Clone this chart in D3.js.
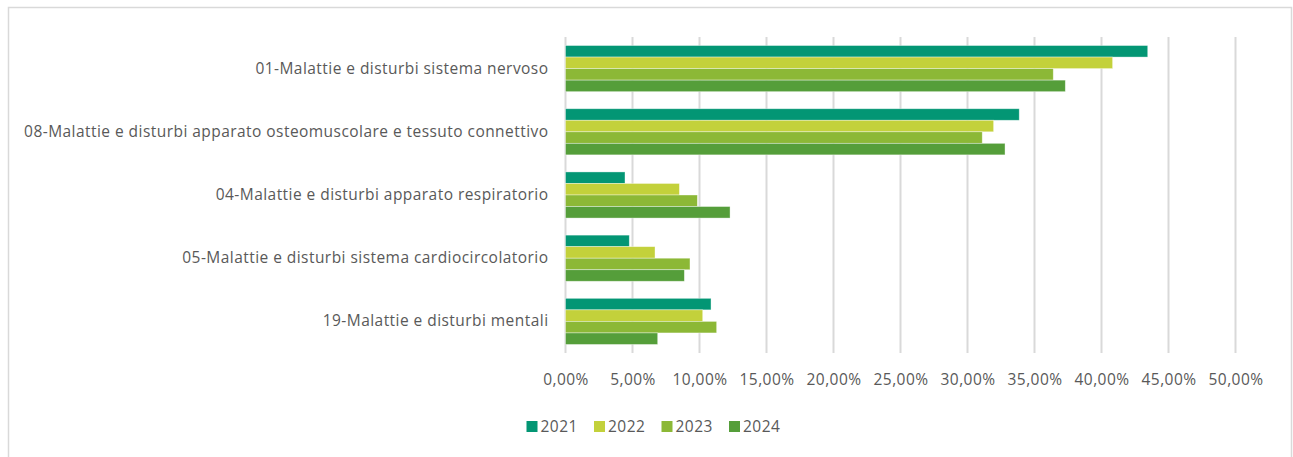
<!DOCTYPE html>
<html><head><meta charset="utf-8">
<script src="https://cdn.jsdelivr.net/npm/d3@7"></script>
<style>
body{margin:0;background:#fff;}
svg{display:block;font-family:"Open Sans",sans-serif;}
</style></head>
<body><svg id="c" width="1293" height="457"></svg>
<script>
const categories = [
  "01-Malattie e disturbi sistema nervoso",
  "08-Malattie e disturbi apparato osteomuscolare e tessuto connettivo",
  "04-Malattie e disturbi apparato respiratorio",
  "05-Malattie e disturbi sistema cardiocircolatorio",
  "19-Malattie e disturbi mentali"
];
const years = ["2021","2022","2023","2024"];
const v2021 = [43.45, 33.86, 4.44, 4.76, 10.86];
const v2022 = [40.83, 31.95, 8.50, 6.68, 10.24];
const v2023 = [36.40, 31.10, 9.84, 9.29, 11.28];
const v2024 = [37.30, 32.80, 12.28, 8.87, 6.88];
const tickValues = [0,5,10,15,20,25,30,35,40,45,50];
const colors = ["#039674","#C3D13B","#8CB836","#559E3A"];
const series = [v2021, v2022, v2023, v2024];

(function(){
const svg = d3.select("#c");
svg.append("rect").attr("x",8.5).attr("y",7.5).attr("width",1283).attr("height",460)
  .attr("fill","#fff").attr("stroke","#d9d9d9").attr("stroke-width",1.5);

const mLeft = 565.5, mRight = 1235.5, mTop = 37, mBottom = 353;
const x = d3.scaleLinear().domain([0,50]).range([mLeft,mRight]);
const y = d3.scaleBand().domain(categories).range([mTop,mBottom]).paddingInner(0.27).paddingOuter(0.135);
const y1 = d3.scaleBand().domain(years).range([0,y.bandwidth()]);

svg.append("g").selectAll("line").data(tickValues).join("line")
  .attr("x1",d=>x(d)).attr("x2",d=>x(d)).attr("y1",mTop).attr("y2",mBottom)
  .attr("stroke","#d9d9d9").attr("stroke-width",2);

years.forEach((yr,i)=>{
  svg.append("g").selectAll("rect").data(categories).join("rect")
    .attr("x",x(0)).attr("y",(c)=>y(c)+y1(yr))
    .attr("width",(c,j)=>x(series[i][j])-x(0)).attr("height",y1.bandwidth())
    .attr("fill",colors[i]).attr("stroke","#fff").attr("stroke-opacity",0.5).attr("stroke-width",0.75);
});

const txtStyle = sel => sel.attr("fill","#595959").style("font-size","15.5px")
  .style("font-family","Open Sans, sans-serif").style("letter-spacing","0.45px");

const yAxis = d3.axisLeft(y).tickSize(0).tickPadding(17);
const ga = svg.append("g").attr("transform",`translate(${mLeft},0)`).call(yAxis);
ga.select(".domain").remove();
ga.selectAll("text").call(txtStyle);

const xAxis = d3.axisBottom(x).tickValues(tickValues).tickSize(0).tickPadding(21)
  .tickFormat(d=>d3.format(".2f")(d).replace(".",",")+"%");
const gx = svg.append("g").attr("transform",`translate(0,${mBottom})`).call(xAxis);
gx.select(".domain").remove();
gx.selectAll("text").call(txtStyle);

const lg = svg.append("g");
years.forEach((yr,i)=>{
  const gx0 = 526.5 + i*67.5;
  lg.append("rect").attr("x",gx0).attr("y",421).attr("width",11).attr("height",11).attr("fill",colors[i]);
  lg.append("text").attr("x",gx0+14).attr("y",427).attr("dy","0.35em").call(txtStyle).text(yr);
});
})();
</script></body></html>
